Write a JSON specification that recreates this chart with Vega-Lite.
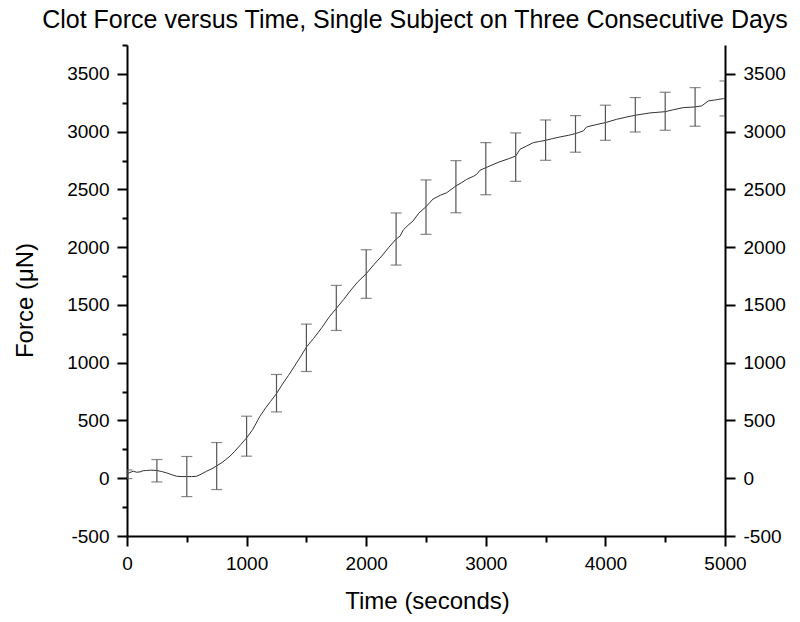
{
  "$schema": "https://vega.github.io/schema/vega-lite/v6.json",
  "width": 598,
  "height": 491,
  "autosize": {"type": "none"},
  "padding": {"left": 127, "top": 45, "right": 75, "bottom": 86},
  "background": "white",
  "title": {
    "text": "Clot Force versus Time, Single Subject on Three Consecutive Days",
    "font": "Liberation Sans",
    "fontSize": 25,
    "fontWeight": "normal",
    "color": "black",
    "anchor": "middle",
    "dx": -11,
    "offset": 11
  },
  "config": {
    "view": {"stroke": null},
    "axis": {
      "labelFont": "Liberation Sans",
      "labelFontSize": 19,
      "labelColor": "black",
      "labelFlush": false,
      "titleFont": "Liberation Sans",
      "titleFontSize": 24,
      "titleFontWeight": "normal",
      "titleColor": "black",
      "domainColor": "black",
      "domainWidth": 2,
      "tickColor": "black",
      "tickWidth": 2,
      "grid": false,
      "labelPadding": 7
    }
  },
  "datasets": {
    "curve": [
      {"t": 0, "f": 37}, {"t": 25, "f": 50}, {"t": 53, "f": 61}, {"t": 80, "f": 52},
      {"t": 109, "f": 55}, {"t": 135, "f": 65}, {"t": 164, "f": 67}, {"t": 200, "f": 70},
      {"t": 250, "f": 67}, {"t": 290, "f": 58}, {"t": 332, "f": 46}, {"t": 375, "f": 30},
      {"t": 416, "f": 17}, {"t": 460, "f": 14}, {"t": 500, "f": 15}, {"t": 540, "f": 14},
      {"t": 582, "f": 17}, {"t": 620, "f": 35}, {"t": 666, "f": 61}, {"t": 710, "f": 82},
      {"t": 750, "f": 107}, {"t": 800, "f": 140}, {"t": 861, "f": 191}, {"t": 900, "f": 232},
      {"t": 950, "f": 290}, {"t": 1000, "f": 349}, {"t": 1050, "f": 420}, {"t": 1112, "f": 537},
      {"t": 1160, "f": 610}, {"t": 1200, "f": 665}, {"t": 1251, "f": 734}, {"t": 1300, "f": 815},
      {"t": 1350, "f": 890}, {"t": 1391, "f": 955}, {"t": 1450, "f": 1050}, {"t": 1500, "f": 1135},
      {"t": 1560, "f": 1210}, {"t": 1628, "f": 1302}, {"t": 1690, "f": 1395}, {"t": 1750, "f": 1470},
      {"t": 1810, "f": 1545}, {"t": 1865, "f": 1620}, {"t": 1930, "f": 1700}, {"t": 2000, "f": 1770},
      {"t": 2065, "f": 1850}, {"t": 2130, "f": 1923}, {"t": 2190, "f": 2000}, {"t": 2250, "f": 2070},
      {"t": 2283, "f": 2096}, {"t": 2311, "f": 2150}, {"t": 2350, "f": 2190}, {"t": 2391, "f": 2226},
      {"t": 2440, "f": 2295}, {"t": 2500, "f": 2350}, {"t": 2559, "f": 2417}, {"t": 2620, "f": 2450},
      {"t": 2673, "f": 2471}, {"t": 2750, "f": 2530}, {"t": 2800, "f": 2560}, {"t": 2840, "f": 2587},
      {"t": 2900, "f": 2615}, {"t": 2924, "f": 2631}, {"t": 2952, "f": 2666}, {"t": 3000, "f": 2688},
      {"t": 3060, "f": 2715}, {"t": 3119, "f": 2740}, {"t": 3190, "f": 2765}, {"t": 3250, "f": 2789},
      {"t": 3286, "f": 2847}, {"t": 3340, "f": 2875}, {"t": 3398, "f": 2905}, {"t": 3450, "f": 2915},
      {"t": 3500, "f": 2925}, {"t": 3560, "f": 2940}, {"t": 3620, "f": 2954}, {"t": 3690, "f": 2968},
      {"t": 3750, "f": 2983}, {"t": 3815, "f": 3006}, {"t": 3843, "f": 3041}, {"t": 3920, "f": 3060},
      {"t": 4000, "f": 3078}, {"t": 4094, "f": 3107}, {"t": 4170, "f": 3125}, {"t": 4250, "f": 3142},
      {"t": 4373, "f": 3162}, {"t": 4500, "f": 3173}, {"t": 4570, "f": 3190}, {"t": 4651, "f": 3208},
      {"t": 4750, "f": 3214}, {"t": 4805, "f": 3223}, {"t": 4861, "f": 3266}, {"t": 4920, "f": 3275},
      {"t": 4987, "f": 3286}, {"t": 5000, "f": 3290}
    ],
    "bars": [
      {"t": 0, "lo": -3, "hi": 72},
      {"t": 250, "lo": -32, "hi": 162},
      {"t": 500, "lo": -159, "hi": 188},
      {"t": 750, "lo": -98, "hi": 309},
      {"t": 1000, "lo": 191, "hi": 537},
      {"t": 1250, "lo": 574, "hi": 898},
      {"t": 1500, "lo": 924, "hi": 1334},
      {"t": 1750, "lo": 1279, "hi": 1669},
      {"t": 2000, "lo": 1557, "hi": 1978},
      {"t": 2250, "lo": 1845, "hi": 2296},
      {"t": 2500, "lo": 2111, "hi": 2582},
      {"t": 2750, "lo": 2298, "hi": 2749},
      {"t": 3000, "lo": 2454, "hi": 2905},
      {"t": 3250, "lo": 2570, "hi": 2989},
      {"t": 3500, "lo": 2752, "hi": 3101},
      {"t": 3750, "lo": 2822, "hi": 3139},
      {"t": 4000, "lo": 2925, "hi": 3229},
      {"t": 4250, "lo": 2997, "hi": 3295},
      {"t": 4500, "lo": 3012, "hi": 3341},
      {"t": 4750, "lo": 3047, "hi": 3381},
      {"t": 5000, "lo": 3136, "hi": 3439}
    ]
  },
  "encoding": {
    "x": {
      "field": "t", "type": "quantitative",
      "scale": {"domain": [0, 5000], "nice": false, "zero": false},
      "axis": {
        "orient": "bottom",
        "title": "Time (seconds)",
        "values": [0, 500, 1000, 1500, 2000, 2500, 3000, 3500, 4000, 4500, 5000],
        "labelExpr": "datum.value % 1000 === 0 ? '' + datum.value : ''",
        "tickSize": {"condition": {"test": "datum.value % 1000 === 0", "value": 10}, "value": 6},
        "labelPadding": 8,
        "titleX": 300,
        "titleY": 72,
        "titleAlign": "center",
        "titleBaseline": "alphabetic"
      }
    }
  },
  "layer": [
    {
      "data": {"name": "curve"},
      "mark": {"type": "line", "color": "#333333", "strokeWidth": 1, "clip": true},
      "encoding": {
        "y": {
          "field": "f", "type": "quantitative",
          "scale": {"domain": [-500, 3750], "nice": false, "zero": false},
          "axis": {
            "orient": "left",
            "title": "Force (μN)",
            "values": [-500, -250, 0, 250, 500, 750, 1000, 1250, 1500, 1750, 2000, 2250, 2500, 2750, 3000, 3250, 3500, 3750],
            "labelExpr": "datum.value % 500 === 0 ? '' + datum.value : ''",
            "tickSize": {"condition": {"test": "datum.value % 500 === 0", "value": 10}, "value": 5},
            "labelPadding": 8,
            "titleX": -95,
            "titleY": 255,
            "titleAngle": -90,
            "titleAlign": "center",
            "titleBaseline": "alphabetic"
          }
        }
      }
    },
    {
      "data": {"name": "bars"},
      "layer": [
        {
          "mark": {"type": "rule", "color": "#555555", "strokeWidth": 1.2, "clip": true},
          "encoding": {
            "y": {
              "field": "lo", "type": "quantitative",
              "scale": {"domain": [-500, 3750], "nice": false, "zero": false},
              "axis": {
                "orient": "right",
                "title": null,
                "values": [-500, -250, 0, 250, 500, 750, 1000, 1250, 1500, 1750, 2000, 2250, 2500, 2750, 3000, 3250, 3500, 3750],
                "labelExpr": "datum.value % 500 === 0 ? '' + datum.value : ''",
                "tickSize": {"condition": {"test": "datum.value % 500 === 0", "value": 10}, "value": 5},
                "labelPadding": 8
              }
            },
            "y2": {"field": "hi"}
          }
        },
        {
          "mark": {"type": "tick", "orient": "horizontal", "color": "#555555", "size": 11, "thickness": 1.2, "clip": true},
          "encoding": {"y": {"field": "lo", "type": "quantitative"}}
        },
        {
          "mark": {"type": "tick", "orient": "horizontal", "color": "#555555", "size": 11, "thickness": 1.2, "clip": true},
          "encoding": {"y": {"field": "hi", "type": "quantitative"}}
        }
      ]
    }
  ],
  "resolve": {"scale": {"y": "independent"}}
}
